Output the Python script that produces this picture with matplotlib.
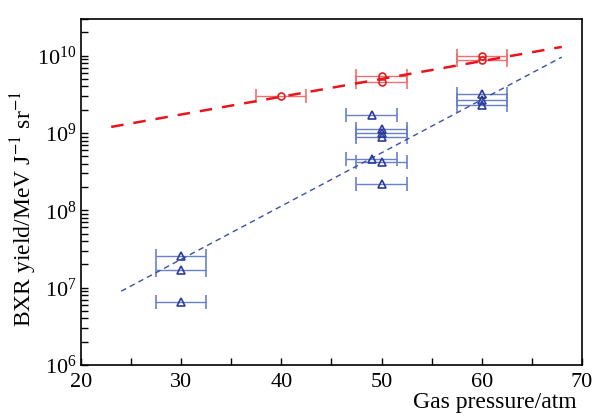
import matplotlib
matplotlib.use('Agg')
import matplotlib.pyplot as plt
import numpy as np
from matplotlib.ticker import LogLocator, MultipleLocator, NullFormatter

plt.rcParams['font.family'] = ['Liberation Serif', 'DejaVu Serif']
plt.rcParams['mathtext.fontset'] = 'stix'

# red circles
red_p = [40, 50, 50, 60, 60]
red_y = [3.0e9, 5.5e9, 4.6e9, 1.0e10, 8.7e9]
red_xerr = [2.5, 2.5, 2.5, 2.5, 2.5]
# red fit line
red_fit_p = [23, 68]
red_fit_y = [1.2e9, 1.3e10]

# blue triangles
blue_p = [30, 30, 30, 49, 50, 50, 50, 49, 50, 50, 60, 60, 60]
blue_y = [2.6e7, 1.7e7, 6.6e6, 1.7e9, 1.13e9, 1.0e9, 8.9e8, 4.6e8, 4.2e8, 2.2e8,
          3.2e9, 2.7e9, 2.3e9]
blue_xerr = [2.5] * 13
# blue fit line
blue_fit_p = [24, 68]
blue_fit_y = [9.0e6, 9.6e9]

fig = plt.figure(figsize=(6.01, 4.19), dpi=100)
ax = fig.add_axes([0.135, 0.129, 0.833, 0.826])

ax.errorbar(red_p, red_y, xerr=red_xerr, fmt='o', ms=5, mfc='none', mec='#e02020',
            mew=1.2, ecolor='#f07070', elinewidth=1.0, capsize=5, capthick=1.0)
ax.plot(red_fit_p, red_fit_y, ls=(0, (5, 4)), c='#e8141e', lw=1.8)

ax.errorbar(blue_p, blue_y, xerr=blue_xerr, fmt='^', ms=6, mfc='none', mec='#2a3c9a',
            mew=1.2, ecolor='#6a80c8', elinewidth=1.0, capsize=5, capthick=1.0)
ax.plot(blue_fit_p, blue_fit_y, ls=(0, (4, 3)), c='#3a50a8', lw=1.0)

ax.set_yscale('log')
ax.set_xlim(20, 70)
ax.set_ylim(1e6, 3e10)
ax.xaxis.set_major_locator(MultipleLocator(10))
ax.xaxis.set_minor_locator(MultipleLocator(5))
ax.yaxis.set_major_locator(LogLocator(base=10, numticks=10))
ax.yaxis.set_minor_locator(LogLocator(base=10, subs=np.arange(2, 10), numticks=20))
ax.yaxis.set_minor_formatter(NullFormatter())
ax.tick_params(which='both', direction='in', top=False, right=False,
               length=5, width=1, labelsize=16)
ax.tick_params(axis='x', pad=6)
for s in ax.spines.values():
    s.set_linewidth(1.2)

ax.set_xlabel('Gas pressure/atm', fontsize=17)
ax.xaxis.set_label_coords(0.826, -0.078)
ax.set_ylabel('BXR yield/MeV J$^{-1}$ sr$^{-1}$', fontsize=17)
ax.yaxis.set_label_coords(-0.085, 0.45)

fig.savefig('out.png', dpi=100)
